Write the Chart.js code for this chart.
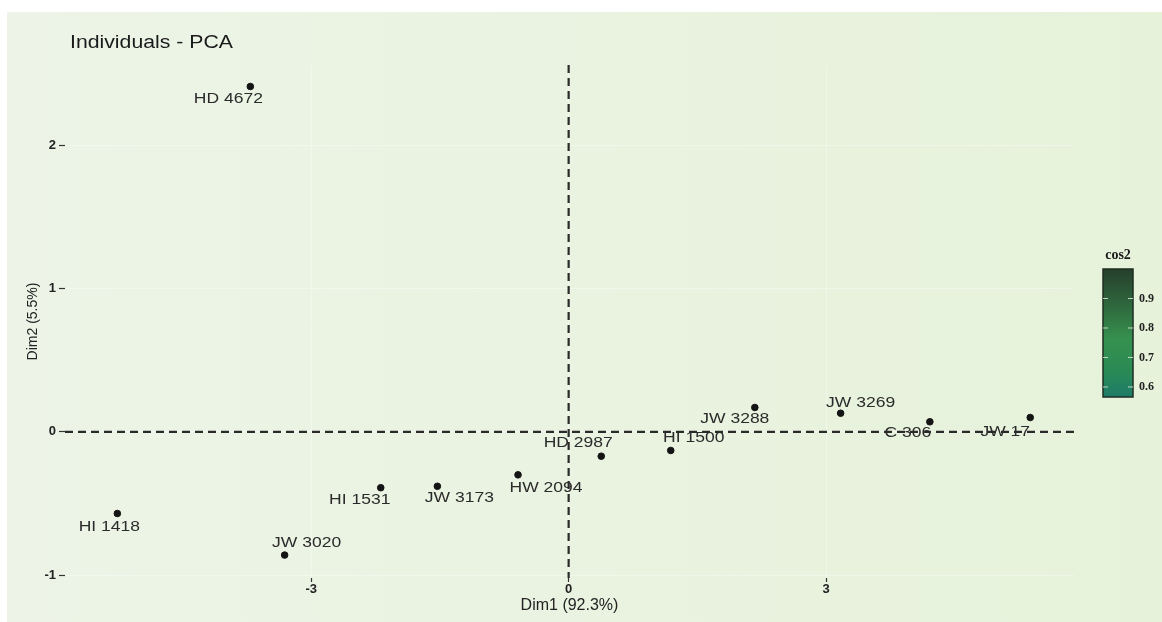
<!DOCTYPE html>
<html><head><meta charset="utf-8">
<script src="https://cdn.jsdelivr.net/npm/chart.js@4.4.1/dist/chart.umd.min.js"></script>
<style>html,body{margin:0;padding:0;background:#fff;}</style>
</head><body>
<canvas id="c" width="1162" height="622"></canvas>
<script>
// ---- data ----
const names = ["HD 4672","HI 1418","JW 3020","HI 1531","JW 3173","HW 2094","HD 2987","HI 1500","JW 3288","JW 3269","C 306","JW 17"];
const dim1 = [-3.71,-5.26,-3.31,-2.19,-1.53,-0.59,0.38,1.19,2.17,3.17,4.21,5.38];
const dim2 = [2.41,-0.57,-0.86,-0.39,-0.38,-0.30,-0.17,-0.13,0.17,0.13,0.07,0.10];
const xTicks = [-3,0,3];
const yTicks = [-1,0,1,2];
const cos2Ticks = [0.6,0.7,0.8,0.9];
const cos2Range = [0.566,1.0];
const chartTitle = "Individuals - PCA";
const xTitle = "Dim1 (92.3%)";
const yTitle = "Dim2 (5.5%)";
const legendTitle = "cos2";
// label placement offsets (pixels, relative to each point)
const labelOffsets = [[-22,13],[-8,14],[22,-12],[-21,12],[22,12],[28,13],[-23,-13],[23,-12],[-20,12],[20,-10],[-22,11],[-25,15]];

const decor = {
  id:'decor',
  beforeDraw(chart){
    const ctx = chart.ctx;
    ctx.save();
    ctx.fillStyle = '#ffffff';
    ctx.fillRect(0,0,chart.width,chart.height);
    const g = ctx.createLinearGradient(7,0,chart.width,0);
    g.addColorStop(0,'#edf4e7');
    g.addColorStop(1,'#e6f2da');
    ctx.fillStyle = g;
    ctx.fillRect(7,12,chart.width-7,chart.height-12);
    ctx.restore();
  },
  beforeDatasetsDraw(chart){
    const {ctx, chartArea:a, scales:{x,y}} = chart;
    const x0 = x.getPixelForValue(0), y0 = y.getPixelForValue(0);
    ctx.save();
    ctx.strokeStyle = '#2a2a2a';
    ctx.lineWidth = 2.2;
    ctx.setLineDash([8,5]);
    ctx.beginPath(); ctx.moveTo(a.left,y0); ctx.lineTo(a.right,y0); ctx.stroke();
    ctx.beginPath(); ctx.moveTo(x0,a.top); ctx.lineTo(x0,a.bottom); ctx.stroke();
    ctx.restore();
  },
  afterDatasetsDraw(chart){
    const {ctx} = chart;
    const meta = chart.getDatasetMeta(0);
    ctx.save();
    // point labels
    ctx.fillStyle = '#2b2b2b';
    ctx.font = '14px "Liberation Sans", Arial, sans-serif';
    ctx.textAlign = 'center';
    ctx.textBaseline = 'middle';
    meta.data.forEach((pt,i)=>{
      const o = labelOffsets[i];
      ctx.save();
      ctx.translate(pt.x+o[0], pt.y+o[1]);
      ctx.scale(1.25,1);
      ctx.fillText(names[i],0,0);
      ctx.restore();
    });
    // title
    ctx.save();
    ctx.fillStyle = '#1a1a1a';
    ctx.font = '18px "Liberation Sans", Arial, sans-serif';
    ctx.textAlign = 'left';
    ctx.textBaseline = 'middle';
    ctx.translate(70,43);
    ctx.scale(1.18,1);
    ctx.fillText(chartTitle,0,0);
    ctx.restore();
    // colour bar legend
    const bx=1103, by=269, bw=30, bh=128;
    const g = ctx.createLinearGradient(0,by,0,by+bh);
    g.addColorStop(0,'#263f2c');
    g.addColorStop(0.3,'#2f6a3e');
    g.addColorStop(0.55,'#36914f');
    g.addColorStop(0.8,'#2a8a55');
    g.addColorStop(1,'#1d7c68');
    ctx.fillStyle = g;
    ctx.fillRect(bx,by,bw,bh);
    ctx.strokeStyle = '#1e2e22';
    ctx.lineWidth = 1.5;
    ctx.strokeRect(bx,by,bw,bh);
    const span = cos2Range[1]-cos2Range[0];
    ctx.font = 'bold 12px "Liberation Serif", "DejaVu Serif", serif';
    ctx.textAlign = 'left';
    ctx.textBaseline = 'middle';
    cos2Ticks.forEach(v=>{
      const ty = by + (cos2Range[1]-v)/span*bh;
      ctx.strokeStyle = 'rgba(220,235,220,0.85)';
      ctx.lineWidth = 1;
      ctx.beginPath(); ctx.moveTo(bx,ty); ctx.lineTo(bx+5,ty); ctx.moveTo(bx+bw-5,ty); ctx.lineTo(bx+bw,ty); ctx.stroke();
      ctx.fillStyle = '#222';
      ctx.fillText(v.toFixed(1), bx+bw+6, ty);
    });
    ctx.font = 'bold 14px "Liberation Serif", "DejaVu Serif", serif';
    ctx.textAlign = 'center';
    ctx.fillStyle = '#1a1a1a';
    ctx.fillText(legendTitle, bx+bw/2, 255);
    ctx.restore();
  }
};

const tickFont = {family:'"Liberation Sans", Arial, sans-serif', size:13, weight:'bold'};

new Chart(document.getElementById('c'), {
  type:'scatter',
  data:{datasets:[{
    data: dim1.map((v,i)=>({x:v,y:dim2[i]})),
    backgroundColor:'#141414',
    borderColor:'#141414',
    pointRadius:3.3,
    pointHoverRadius:3.3
  }]},
  options:{
    responsive:false,
    animation:false,
    devicePixelRatio:1,
    layout:{padding:{top:65,right:88,left:0,bottom:0}},
    plugins:{legend:{display:false},tooltip:{enabled:false},title:{display:false}},
    scales:{
      x:{
        type:'linear', min:-5.87, max:5.89,
        afterBuildTicks(s){ s.ticks = xTicks.map(v=>({value:v})); },
        afterFit(s){ s.height = 44; },
        border:{display:false},
        grid:{color:'rgba(255,255,255,0.35)', lineWidth:1, drawTicks:true, tickLength:4, tickColor:'#333', tickWidth:1.2},
        ticks:{font:tickFont, color:'#222', padding:0, maxRotation:0},
        title:{display:true, text:xTitle, color:'#222', font:{family:'"Liberation Sans", Arial, sans-serif', size:16}, padding:{top:0,bottom:7}}
      },
      y:{
        type:'linear', min:-1.02, max:2.56,
        afterBuildTicks(s){ s.ticks = yTicks.map(v=>({value:v})); },
        afterFit(s){ s.width = 65; },
        border:{display:false},
        grid:{color:'rgba(255,255,255,0.35)', lineWidth:1, drawTicks:true, tickLength:6, tickColor:'#333', tickWidth:1.2},
        ticks:{font:tickFont, color:'#222', padding:3},
        title:{display:true, text:yTitle, color:'#222', font:{family:'"Liberation Sans", Arial, sans-serif', size:14}, padding:{top:25,bottom:0}}
      }
    }
  },
  plugins:[decor]
});
</script>
</body></html>
